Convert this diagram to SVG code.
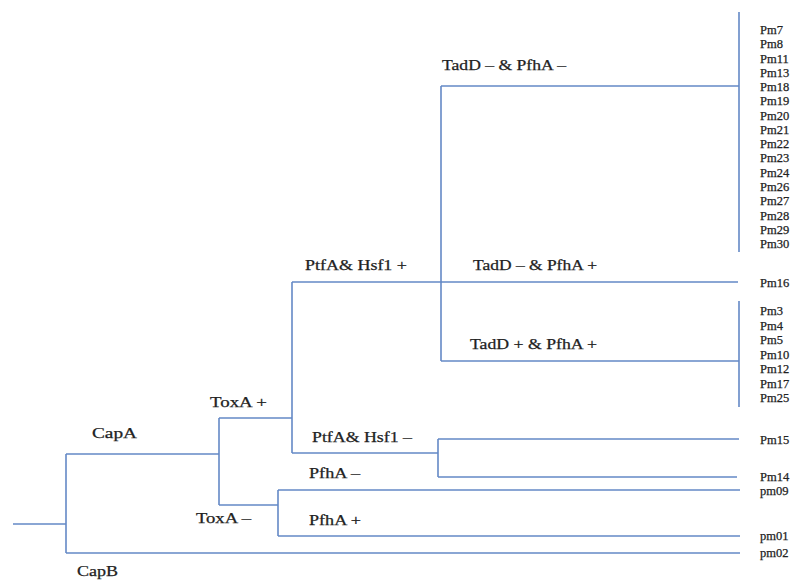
<svg xmlns="http://www.w3.org/2000/svg" width="801" height="580" viewBox="0 0 801 580">
<style>
.c{stroke:#6489c6;stroke-width:1.6;fill:none}
.l{font-family:"Liberation Serif",serif;font-size:14px;fill:#222;stroke:#222;stroke-width:0.25}
.t{font-family:"Liberation Serif",serif;font-size:12.5px;fill:#222;stroke:#222;stroke-width:0.25}
</style>
<rect width="801" height="580" fill="#fff"/>
<g id="connectors">
<path class="c" d="M13 524H66M66 454V553M66 454H219M66 553H740M219 418V505M219 418H292M219 505H278M278 490V536M278 490H740M278 536H740M292 282V453M292 282H441M292 453H438M438 439V477M438 439H739M438 477H737M441 86V361M441 86H739M441 282H738M441 361H739M739 12V252M739 301V407"/>
</g>
<g id="branch-labels">
<text class="l" x="92" y="438" textLength="45" lengthAdjust="spacingAndGlyphs">CapA</text>
<text class="l" x="77" y="576" textLength="41" lengthAdjust="spacingAndGlyphs">CapB</text>
<text class="l" x="210" y="407" textLength="57" lengthAdjust="spacingAndGlyphs">ToxA +</text>
<text class="l" x="196" y="523" textLength="55" lengthAdjust="spacingAndGlyphs">ToxA –</text>
<text class="l" x="305" y="270" textLength="102" lengthAdjust="spacingAndGlyphs">PtfA&amp; Hsf1 +</text>
<text class="l" x="312" y="442" textLength="100" lengthAdjust="spacingAndGlyphs">PtfA&amp; Hsf1 –</text>
<text class="l" x="309" y="478" textLength="51" lengthAdjust="spacingAndGlyphs">PfhA –</text>
<text class="l" x="309" y="525" textLength="52" lengthAdjust="spacingAndGlyphs">PfhA +</text>
<text class="l" x="442" y="70" textLength="124" lengthAdjust="spacingAndGlyphs">TadD –  &amp; PfhA –</text>
<text class="l" x="473" y="270" textLength="124" lengthAdjust="spacingAndGlyphs">TadD – &amp; PfhA +</text>
<text class="l" x="470" y="349" textLength="127" lengthAdjust="spacingAndGlyphs">TadD  + &amp; PfhA +</text>
</g>
<g id="leaves-1">
<text class="t" x="760" y="34">Pm7</text>
<text class="t" x="760" y="48.3">Pm8</text>
<text class="t" x="760" y="62.5">Pm11</text>
<text class="t" x="760" y="76.8">Pm13</text>
<text class="t" x="760" y="91.1">Pm18</text>
<text class="t" x="760" y="105.4">Pm19</text>
<text class="t" x="760" y="119.6">Pm20</text>
<text class="t" x="760" y="133.9">Pm21</text>
<text class="t" x="760" y="148.2">Pm22</text>
<text class="t" x="760" y="162.4">Pm23</text>
<text class="t" x="760" y="176.7">Pm24</text>
<text class="t" x="760" y="191">Pm26</text>
<text class="t" x="760" y="205.2">Pm27</text>
<text class="t" x="760" y="219.5">Pm28</text>
<text class="t" x="760" y="233.8">Pm29</text>
<text class="t" x="760" y="248">Pm30</text>
</g>
<g id="leaf-pm16"><text class="t" x="760" y="287">Pm16</text></g>
<g id="leaves-2">
<text class="t" x="760" y="315">Pm3</text>
<text class="t" x="760" y="329.5">Pm4</text>
<text class="t" x="760" y="344">Pm5</text>
<text class="t" x="760" y="358.5">Pm10</text>
<text class="t" x="760" y="373">Pm12</text>
<text class="t" x="760" y="387.5">Pm17</text>
<text class="t" x="760" y="402">Pm25</text>
</g>
<g id="leaf-pm15"><text class="t" x="760" y="444">Pm15</text></g>
<g id="leaf-pm14"><text class="t" x="760" y="481">Pm14</text></g>
<g id="leaf-pm09"><text class="t" x="760" y="494.5">pm09</text></g>
<g id="leaf-pm01"><text class="t" x="760" y="540">pm01</text></g>
<g id="leaf-pm02"><text class="t" x="760" y="557">pm02</text></g>
</svg>
